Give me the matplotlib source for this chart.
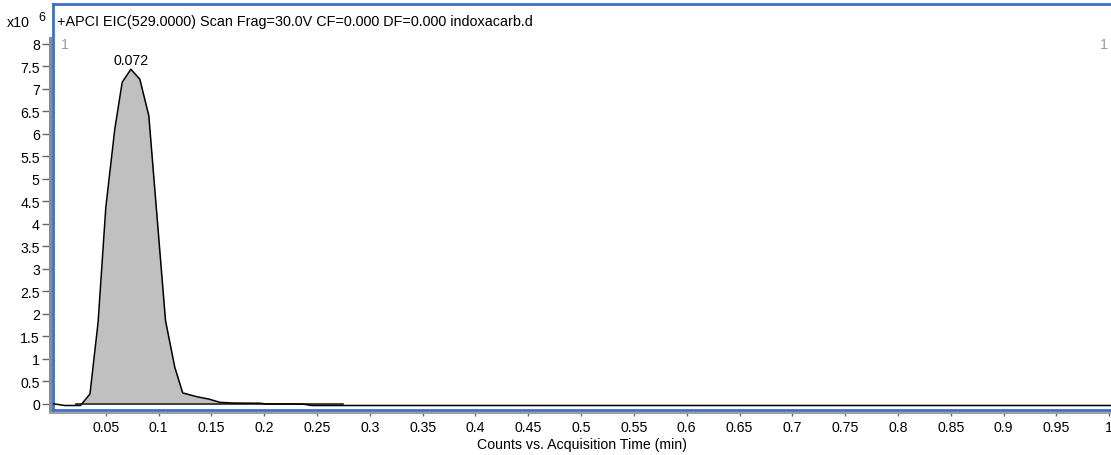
import numpy as np
import matplotlib.pyplot as plt
from matplotlib.patches import Rectangle
from matplotlib.lines import Line2D

plt.rcParams['font.family'] = ['Liberation Sans', 'DejaVu Sans']

# EIC trace, counts in units of 1e6
t = [0.0, 0.011, 0.026, 0.035, 0.0427, 0.050, 0.0585, 0.0655, 0.0737, 0.0822,
     0.0907, 0.1065, 0.1153, 0.1228, 0.136, 0.148, 0.158, 0.170, 0.196, 0.202,
     0.237, 0.245, 1.0017]
counts = [0.0, -0.04, -0.04, 0.215, 1.81, 4.36, 6.10, 7.14, 7.43, 7.21,
          6.40, 1.85, 0.81, 0.24, 0.156, 0.10, 0.03, 0.015, 0.01, -0.005,
          -0.01, -0.04, -0.04]
peak_rt = 0.0737
peak_label = '0.072'
base_start, base_end = 0.022, 0.275

x_ticks = [round(0.05 * i, 2) for i in range(1, 21)]
y_ticks = [0.5 * i for i in range(0, 17)]

title = '+APCI EIC(529.0000) Scan Frag=30.0V CF=0.000 DF=0.000 indoxacarb.d'
blue = '#3d70c6'
fs = 10.2

fig = plt.figure(figsize=(11.11, 4.56), dpi=100)
W, H = 1111, 456
ax = fig.add_axes([53 / W, 45 / H, 1058 / W, 406 / H])

t = np.array(t)
counts = np.array(counts)
mask = (t >= 0.026) & (t <= base_end)
ax.fill_between(t, counts, 0, where=mask, color='#c0c0c0', lw=0, zorder=1)
ax.plot([base_start, base_end], [0, 0], color='#333333', lw=1.3, zorder=2)
ax.plot(t, counts, color='black', lw=1.1, zorder=3)

ax.annotate(peak_label, xy=(peak_rt, 7.43), xytext=(0, 1.5), textcoords='offset points',
            ha='center', va='bottom', fontsize=fs)

ax.set_xlim(0, 1.0017)
ax.set_ylim(-0.14, 8.88)
ax.set_xticks(x_ticks)
ax.set_xticklabels([f'{v:g}' for v in x_ticks])
ax.set_yticks(y_ticks)
ax.set_yticklabels([f'{v:g}' for v in y_ticks])
ax.tick_params(axis='x', length=4, pad=3.5, color='#666666', labelsize=fs, width=1)
ax.tick_params(axis='y', length=8, pad=1.5, color='#666666', labelsize=fs, width=1)
ax.set_xlabel('Counts vs. Acquisition Time (min)', fontsize=fs, labelpad=2)

for s in ['top', 'left', 'bottom']:
    ax.spines[s].set_color(blue)
    ax.spines[s].set_linewidth(2)
ax.spines['right'].set_visible(False)

# grey scroll bars along left and bottom edge
fig.add_artist(Rectangle((49 / W, (H - 414) / H), 3 / W, 376 / H,
                         transform=fig.transFigure, color='#8c8c8c', lw=0))
fig.add_artist(Line2D([50 / W, 1.0], [(H - 414) / H] * 2, transform=fig.transFigure,
                      color='#a0a0a0', lw=1.5))

ax.text(0.004, 1 - 17 / 406, title, transform=ax.transAxes, fontsize=10.4, va='center')
ax.text(0.007, 1 - 40 / 406, '1', transform=ax.transAxes, fontsize=fs,
        color='#999999', va='center')
ax.text(0.9975, 1 - 40 / 406, '1', transform=ax.transAxes, fontsize=fs,
        color='#999999', va='center', ha='right')
fig.text(7 / W, 1 - 23 / H, 'x10', fontsize=fs, va='center')
fig.text(38 / W, 1 - 18 / H, '6', fontsize=9, va='center')

fig.savefig('out.png', dpi=100)
